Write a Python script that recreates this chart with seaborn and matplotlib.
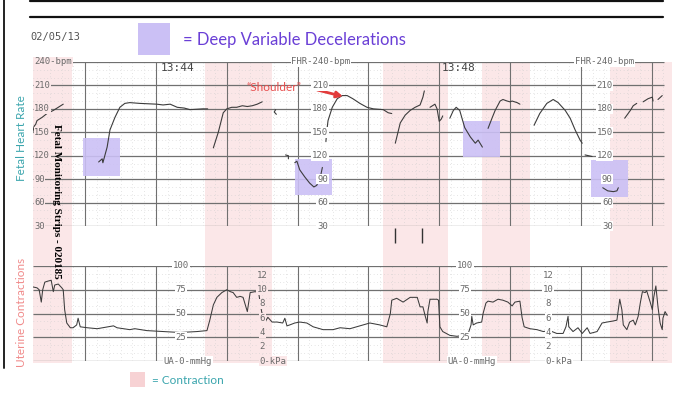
import matplotlib
matplotlib.use('Agg')
import numpy as np
import pandas as pd
import matplotlib.pyplot as plt
from matplotlib.patches import Rectangle
from matplotlib.lines import Line2D
import seaborn as sns

# time in minutes after 13:44
fhr_seg = ([0] * 10 + [1] * 18 + [2] * 11 + [3] * 3 + [4] * 3 + [5] * 9 + [6] * 14 +
           [7] * 8 + [8] * 6 + [9] * 9 + [10] * 10 + [11] * 10 + [12] * 2 + [13] * 5 +
           [14] * 4 + [15] * 4 + [16] * 2)
fhr_time = [-1.76, -1.74, -1.72, -1.70, -1.68, -1.61, -1.54, -1.45, -1.38, -1.31,
            -0.81, -0.76, -0.75, -0.69, -0.65, -0.58, -0.51, -0.44, -0.37, -0.23, 0.01, 0.10,
            0.20, 0.30, 0.40, 0.48, 0.66, 0.73,
            0.81, 0.88, 0.95, 1.00, 1.07, 1.14, 1.22, 1.29, 1.36, 1.43, 1.50,
            1.69, 1.67, 1.70,
            1.83, 1.87, 1.87,
            1.96, 1.99, 2.03, 2.10, 2.17, 2.23, 2.27, 2.32, 2.35,
            2.40, 2.41, 2.43, 2.49, 2.56, 2.63, 2.70, 2.78, 2.88, 2.98, 3.07, 3.21, 3.28, 3.33,
            3.38, 3.45, 3.52, 3.59, 3.66, 3.73, 3.77, 3.79,
            3.87, 3.94, 3.97, 4.00, 4.03, 4.05,
            4.15, 4.20, 4.24, 4.29, 4.36, 4.44, 4.51, 4.55, 4.61,
            4.69, 4.75, 4.79, 4.86, 4.90, 4.96, 5.00, 5.03, 5.10, 5.14,
            5.34, 5.42, 5.52, 5.61, 5.68, 5.78, 5.85, 5.92, 5.99, 6.02,
            6.06, 6.16,
            6.31, 6.38, 6.46, 6.51, 6.53,
            6.62, 6.70, 6.74, 6.79,
            6.88, 6.95, 7.01, 7.02,
            7.09, 7.15]
fhr_bpm = [144, 150, 158, 160, 165, 169, 174, 178, 182, 186,
           112, 116, 111, 131, 153, 169, 182, 187, 188, 187, 186, 185,
           186, 182, 181, 179, 180, 180,
           130, 150, 175, 180, 182, 182, 184, 183, 184, 186, 189,
           179, 176, 173,
           121, 120, 116,
           111, 113, 102, 93, 85, 80, 82, 92, 105,
           138, 150, 165, 182, 193, 197, 197, 193, 187, 182, 180, 179, 175, 174,
           136, 162, 172, 178, 182, 185, 195, 203,
           182, 186, 180, 164, 167, 171,
           168, 178, 182, 178, 156, 144, 136, 140, 131,
           155, 169, 178, 190, 192, 190, 189, 190, 188, 186,
           159, 174, 187, 192, 188, 178, 168, 153, 140, 136,
           121, 119,
           79, 75, 74, 75, 79,
           168, 178, 184, 187,
           189, 193, 195, 190,
           192, 197]

uc_time = [-1.74, -1.68, -1.65, -1.62, -1.60, -1.57, -1.53, -1.48, -1.45, -1.43, -1.38, -1.33,
           -1.31, -1.29, -1.26, -1.21, -1.17, -1.12, -1.10, -1.07, -0.97, -0.83, -0.60, -0.55,
           -0.37, -0.30, -0.13, 0.10, 0.34, 0.58, 0.72, 0.76, 0.81, 0.86, 0.93, 1.00, 1.05,
           1.09, 1.14, 1.19, 1.23, 1.29, 1.33, 1.40, 1.45, 1.48, 1.51, 1.54, 1.58, 1.64, 1.71,
           1.79, 1.82, 1.85, 1.89, 1.96, 2.03, 2.13, 2.22, 2.36, 2.50, 2.60, 2.74, 2.88, 3.02,
           3.16, 3.26, 3.31, 3.33, 3.40, 3.49, 3.59, 3.69, 3.73, 3.77, 3.80, 3.83, 3.84, 3.87,
           3.97, 3.99, 4.01, 4.05, 4.15, 4.25, 4.34, 4.41, 4.45, 4.46, 4.48, 4.53, 4.60, 4.62,
           4.66, 4.69, 4.76, 4.83, 4.90, 4.97, 5.03, 5.07, 5.14, 5.17, 5.20, 5.28, 5.38, 5.47,
           5.56, 5.66, 5.75, 5.79, 5.82, 5.83, 5.89, 5.96, 6.02, 6.09, 6.13, 6.23, 6.30, 6.37,
           6.45, 6.51, 6.53, 6.55, 6.58, 6.60, 6.65, 6.69, 6.74, 6.77, 6.81, 6.84, 6.87, 6.91,
           6.93, 6.98, 7.01, 7.03, 7.06, 7.09, 7.12, 7.15, 7.16, 7.19, 7.22]
uc_mmhg = [78, 77, 75, 62, 75, 83, 84, 85, 73, 80, 81, 77,
           75, 54, 40, 35, 35, 38, 45, 36, 35, 34, 37, 35,
           33, 34, 32, 31, 30, 31, 32, 43, 59, 67, 72, 75, 73,
           72, 67, 68, 67, 52, 72, 73, 72, 57, 45, 41, 46, 41, 41,
           40, 45, 37, 38, 40, 41, 40, 36, 33, 33, 35, 34, 37, 40,
           38, 36, 50, 64, 66, 62, 67, 67, 57, 57, 48, 40, 52, 65,
           65, 64, 36, 31, 27, 26, 27, 29, 38, 47, 38, 40, 41, 50,
           61, 63, 62, 65, 64, 62, 58, 62, 63, 46, 36, 34, 33, 31,
           32, 29, 29, 36, 47, 36, 31, 35, 29, 35, 29, 31, 40, 41,
           42, 43, 54, 65, 54, 38, 33, 41, 43, 38, 47, 61, 73, 72,
           74, 62, 54, 67, 79, 57, 40, 33, 45, 52, 48]

contraction_start = [-1.74, 0.69, 3.21, 4.60, 6.41]
contraction_end = [-1.19, 1.64, 4.12, 5.28, 7.29]

decel_start = [-1.03, 1.96, 4.34, 6.14]
decel_end = [-0.51, 2.49, 4.86, 6.67]
decel_low = [94, 70, 118, 67]
decel_high = [143, 116, 164, 115]

event_marks = [3.38, 3.76]
fhr_levels = [30, 60, 90, 120, 150, 180, 210, 240]
uc_levels = [0, 25, 50, 75, 100]
kpa_levels = [2, 4, 6, 8, 10, 12]

PINK = '#fbe7e8'
PINK_KEY = '#f7d2d4'
PURPLE = '#cbc0f5'
TEAL = '#3aa5ad'
SALMON = '#f08a8a'
GRID = '#707070'
TRACE = '#3c3c3c'
LABEL = '#6a6a6a'

sns.set_style('white')
plt.rcParams['font.family'] = ['DejaVu Sans']

W, H = 700, 394
fig = plt.figure(figsize=(7, 3.94), dpi=100)


def fx(px):
    return px / W


def fy(py):
    return 1 - py / H


t_lo, t_hi = -1.737, 7.288
left, width = fx(33), fx(672) - fx(33)

# contraction bands run through both strips
bg = fig.add_axes([left, fy(363), width, fy(62) - fy(363)])
bg.set_xlim(t_lo, t_hi)
bg.axis('off')
for a, b in zip(contraction_start, contraction_end):
    bg.axvspan(a, b, color=PINK, lw=0)

mono = 'DejaVu Sans Mono'


def draw_grid(ax, levels, y0, y1, minor_step, x_end):
    minutes = np.arange(-1, 8)
    ax.vlines(minutes, y0, y1, color=GRID, lw=0.8, zorder=1)
    fine_t = np.arange(-1.5, x_end, 1 / 6)
    ax.vlines(fine_t, y0, y1, color='#cdcdcd', lw=0.5, linestyles=(0, (1, 4)), zorder=0.5)
    fine_y = np.arange(y0, y1, minor_step)
    ax.hlines(fine_y, t_lo, x_end, color='#cdcdcd', lw=0.5, linestyles=(0, (1, 4)), zorder=0.5)
    ax.hlines(levels, t_lo, x_end, color=GRID, lw=0.9, zorder=1)


# fetal heart rate strip
ax = fig.add_axes([left, fy(226), width, fy(62) - fy(226)])
ax.set_xlim(t_lo, t_hi)
ax.set_ylim(30, 240)
ax.axis('off')
ax.patch.set_alpha(0)
draw_grid(ax, fhr_levels, 30, 240, 10, 7.17)

for a, b, lo, hi in zip(decel_start, decel_end, decel_low, decel_high):
    ax.add_patch(Rectangle((a, lo), b - a, hi - lo, facecolor=PURPLE, lw=0, alpha=0.9, zorder=2))

fhr = pd.DataFrame({'seg': fhr_seg, 't': fhr_time, 'bpm': fhr_bpm})
sns.lineplot(data=fhr, x='t', y='bpm', units='seg', estimator=None, sort=False,
             color=TRACE, lw=0.8, ax=ax, zorder=3)
ax.set_xlim(t_lo, t_hi)
ax.set_ylim(30, 240)

for v in fhr_levels[:-1]:
    ax.text(-1.72, v, str(v), ha='left', va='center', fontsize=6.3, family=mono, color=LABEL,
            bbox=dict(facecolor=PINK, edgecolor='none', pad=0.5), zorder=4)
    ax.text(2.43, v, str(v), ha='right', va='center', fontsize=6.5, family=mono, color=LABEL,
            bbox=dict(facecolor='white', edgecolor='none', pad=0.6), zorder=4)
    ax.text(6.45, v, str(v), ha='right', va='center', fontsize=6.5, family=mono, color=LABEL,
            bbox=dict(facecolor='white', edgecolor='none', pad=0.6), zorder=4)
ax.text(-1.72, 240, '240-bpm', ha='left', va='center', fontsize=6.5, family=mono, color=LABEL,
        bbox=dict(facecolor=PINK, edgecolor='none', pad=0.6), zorder=4)
ax.text(2.33, 240, 'FHR-240-bpm', ha='center', va='center', fontsize=6.5, family=mono, color=LABEL,
        bbox=dict(facecolor='white', edgecolor='none', pad=0.6), zorder=4)
ax.text(6.33, 240, 'FHR-240-bpm', ha='center', va='center', fontsize=6.5, family=mono, color=LABEL,
        bbox=dict(facecolor='white', edgecolor='none', pad=0.6), zorder=4)
ax.text(0.06, 232, '13:44', ha='left', va='center', fontsize=8, family=mono, color='#444444')
ax.text(4.04, 232, '13:48', ha='left', va='center', fontsize=8, family=mono, color='#444444')

ax.text(1.66, 207, '\u201cShoulder\u201d', ha='center', va='center', fontsize=8.5,
        family='Lato', color='#e8504f')
ax.annotate('', xy=(2.68, 195), xytext=(2.24, 205),
            arrowprops=dict(arrowstyle='-|>', color='#e23b3b', lw=2, mutation_scale=9))
ax.vlines(event_marks, 8, 27, color='#333333', lw=1, clip_on=False)

# uterine contraction strip
ux = fig.add_axes([left, fy(361), width, fy(266) - fy(361)])
ux.set_xlim(t_lo, t_hi)
ux.set_ylim(0, 100)
ux.axis('off')
ux.patch.set_alpha(0)
draw_grid(ux, uc_levels, 0, 100, 25 / 3, 7.22)

uc = pd.DataFrame({'t': uc_time, 'mmhg': uc_mmhg})
sns.lineplot(data=uc, x='t', y='mmhg', estimator=None, sort=False, color=TRACE, lw=0.75,
             ax=ux, zorder=3)
ux.set_xlim(t_lo, t_hi)
ux.set_ylim(0, 100)

for xc, kc, face in [(0.35, 1.50, PINK), (4.36, 5.54, 'white')]:
    for v in uc_levels[1:]:
        ux.text(xc, v, str(v), ha='center', va='center', fontsize=6.5, family=mono, color=LABEL,
                bbox=dict(facecolor='white', edgecolor='none', pad=0.6), zorder=4)
    ux.text(xc + 0.1, 0, 'UA-0-mmHg', ha='center', va='center', fontsize=6.5, family=mono,
            color=LABEL, bbox=dict(facecolor='white', edgecolor='none', pad=0.6), zorder=4)
    for k in kpa_levels:
        ux.text(kc, k * 7.5, str(k), ha='center', va='center', fontsize=6.5, family=mono,
                color=LABEL, bbox=dict(facecolor=face, edgecolor='none', pad=0.6), zorder=4)
    ux.text(kc - 0.04, 0, '0-kPa', ha='left', va='center', fontsize=6.5, family=mono,
            color=LABEL, bbox=dict(facecolor=face, edgecolor='none', pad=0.6), zorder=4)

# page furniture
fig.add_artist(Line2D([fx(30), fx(663)], [fy(1), fy(1)], color='#111111', lw=1.6))
fig.add_artist(Line2D([fx(30), fx(663)], [fy(17), fy(17)], color='#111111', lw=1.6))
fig.add_artist(Line2D([fx(4), fx(4)], [fy(0), fy(368)], color='#222222', lw=1.4))
fig.text(fx(30), fy(37), '02/05/13', ha='left', va='center', fontsize=7.5, family=mono,
         color='#555555')
fig.add_artist(Rectangle((fx(138), fy(55)), fx(32), fx(32) * W / H, transform=fig.transFigure,
                         facecolor=PURPLE, lw=0))
fig.text(fx(183), fy(40), '= Deep Variable Decelerations', ha='left', va='center',
         fontsize=12, family='Lato', color='#6a3fd6')
fig.add_artist(Rectangle((fx(130), fy(387)), fx(15), fx(15) * W / H, transform=fig.transFigure,
                         facecolor=PINK_KEY, lw=0))
fig.text(fx(152), fy(380), '= Contraction', ha='left', va='center', fontsize=8.5,
         family='Lato', color=TEAL)
fig.text(fx(22), fy(138), 'Fetal Heart Rate', rotation=90, ha='center', va='center',
         fontsize=8.5, family='Lato', color=TEAL)
fig.text(fx(22), fy(312), 'Uterine Contractions', rotation=90, ha='center', va='center',
         fontsize=8.5, family='Lato', color=SALMON)
fig.text(fx(56), fy(201), 'Fetal Monitoring Strips - 020185', rotation=-90, ha='center',
         va='center', fontsize=8, family='Liberation Serif', weight='bold', color='black')

fig.savefig('out.png', dpi=100)
